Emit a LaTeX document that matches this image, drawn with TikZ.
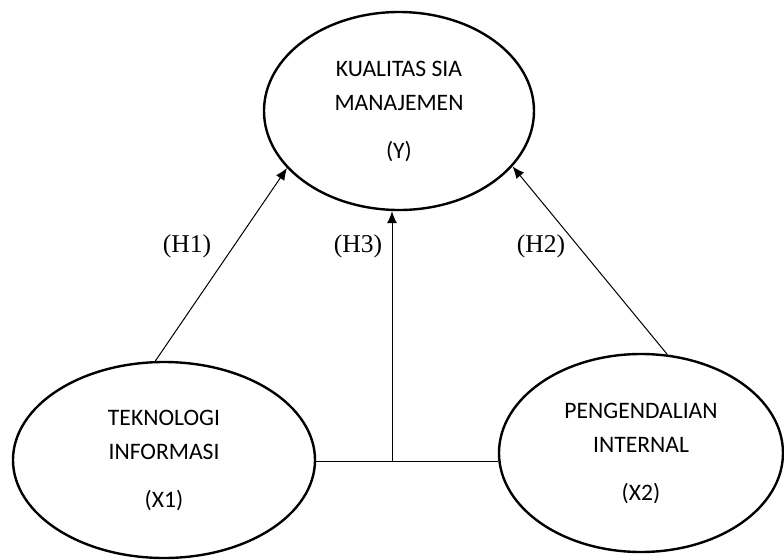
\documentclass[tikz,border=0pt]{standalone}
\usepackage{fontspec}
\setmainfont{Liberation Serif}
\newfontfamily\calfont{Carlito}
\usetikzlibrary{arrows.meta, shapes.geometric}

\tikzset{
  var/.style={draw, ellipse, line width=1.2pt, inner sep=0pt, align=center,
    font=\calfont\fontsize{11.8}{17}\selectfont},
  link/.style={line width=0.5pt, -{Latex[length=6pt,width=5pt]}},
  hyp/.style={font=\fontsize{12.8}{14}\selectfont},
}

\begin{document}
\begin{tikzpicture}[x=0.5pt, y=-0.5pt]
  \useasboundingbox (0,0) rectangle (784,559);

  \node [var, minimum width=135pt, minimum height=99pt] (Y) at (399,111)
    {KUALITAS SIA\\MANAJEMEN\\[7pt](Y)};
  \node [var, minimum width=151pt, minimum height=98pt] (X1) at (164,460)
    {TEKNOLOGI\\INFORMASI\\[7pt](X1)};
  \node [var, minimum width=142pt, minimum height=99pt] (X2) at (641,453)
    {PENGENDALIAN\\INTERNAL\\[7pt](X2)};

  \coordinate (m) at (392,461);

  \node [hyp] (h1) at (187,246) {(H1)};
  \node [hyp] (h3) at (358,246) {(H3)};
  \node [hyp] (h2) at (541,246) {(H2)};

  \draw [link] (X1.95) -- (Y.207);
  \draw [link] (X2.75) -- (Y.-26);
  \draw [line width=0.5pt] (X1.east |- m) -- (X2.west |- m);
  \draw [link] (m) -- (m |- Y.south);
\end{tikzpicture}
\end{document}
